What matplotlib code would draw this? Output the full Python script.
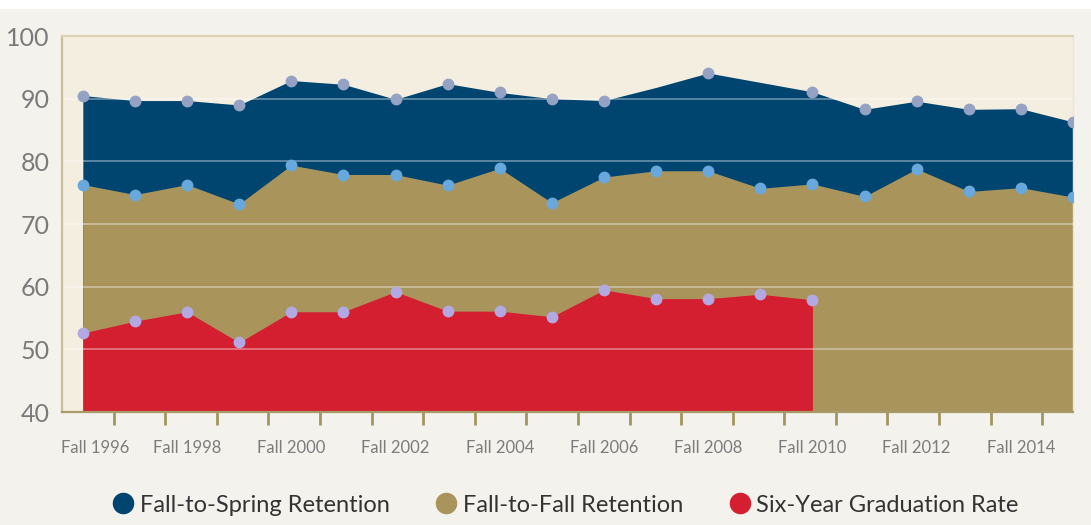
import matplotlib
matplotlib.use("Agg")
import matplotlib.pyplot as plt
import matplotlib.transforms as mtransforms
from matplotlib.lines import Line2D
from matplotlib.patches import Rectangle
import numpy as np

years = list(range(1996, 2016))
spring = [90.5, 89.7, 89.7, 89.0, 92.9, 92.3, 89.9, 92.4, 91.0, 90.0,
          89.7, 91.8, 94.1, 92.6, 91.1, 88.3, 89.6, 88.3, 88.4, 86.3]
spring_unmarked = [2007, 2009]
fall = [76.3, 74.7, 76.3, 73.2, 79.4, 77.9, 77.9, 76.2, 78.9, 73.4,
        77.5, 78.5, 78.5, 75.7, 76.4, 74.4, 78.8, 75.2, 75.8, 74.3]
grad_years = list(range(1996, 2011))
grad = [52.6, 54.5, 56.0, 51.1, 56.0, 56.0, 59.2, 56.1, 56.1, 55.2,
        59.5, 58.1, 58.1, 58.8, 57.9]

labels = ["Fall-to-Spring Retention", "Fall-to-Fall Retention", "Six-Year Graduation Rate"]
navy, tan, red = "#004470", "#a9945c", "#d41f30"

plt.rcParams["font.family"] = ["Lato", "DejaVu Sans"]

fig = plt.figure(figsize=(10.91, 5.25), dpi=100, facecolor="#f4f2ed")
fig.patches.append(Rectangle((0, 0.982), 1, 0.018, transform=fig.transFigure,
                             facecolor="white", edgecolor="none", zorder=0))
ax = fig.add_axes([0.0568, 0.2152, 0.9267, 0.7162])
ax.set_facecolor("#f3eee0")

x = np.arange(len(years))
xg = np.arange(len(grad_years))
base = 40

ax.fill_between(x, base, spring, color=navy, lw=0, zorder=1)
ax.fill_between(x, base, fall, color=tan, lw=0, zorder=1.1)
ax.fill_between(xg, base, grad, color=red, lw=0, zorder=1.2)

mk = [i for i, yr in enumerate(years) if yr not in spring_unmarked]
ax.plot(x[mk], np.array(spring)[mk], "o", ms=7.5, color="#95a2c4", zorder=4)
ax.plot(x, fall, "o", ms=7.5, color="#68a8dc", zorder=4)
ax.plot(xg, grad, "o", ms=7.5, color="#b3a9e2", zorder=4)

ax.set_ylim(40, 100)
ax.set_xlim(-0.4, 19)
ax.set_yticks(range(40, 101, 10))
for v in range(50, 100, 10):
    ax.axhline(v, color="white", alpha=0.38, lw=1.3, zorder=2)

# year labels on every other point, tick marks between points
ax.set_xticks(x[::2])
ax.set_xticklabels([f"Fall {yr}" for yr in years[::2]])
ax.set_xticks(np.arange(1, 20) * 0.99 - 0.4, minor=True)
ax.tick_params(axis="x", which="major", length=0, pad=20, labelsize=12, labelcolor="#7c7c7c")
ax.tick_params(axis="x", which="minor", length=9, width=2, color="#a3955f", direction="out")
ax.tick_params(axis="y", length=0, pad=9, labelsize=18, labelcolor="#7a7a7a")
first = ax.get_xticklabels()[0]
first.set_transform(first.get_transform() +
                    mtransforms.ScaledTranslation(0.12, 0, fig.dpi_scale_trans))

ax.spines["bottom"].set_color("#a89a68")
ax.spines["bottom"].set_linewidth(1.6)
ax.spines["left"].set_color("#cbbf98")
ax.spines["left"].set_linewidth(1.6)
ax.spines["top"].set_color("#ddd2b2")
ax.spines["top"].set_linewidth(1.6)
ax.spines["right"].set_color("#ebe5d4")
ax.spines["right"].set_linewidth(1)

handles = [Line2D([], [], ls="none", marker="o", ms=14.5, color=c) for c in (navy, tan, red)]
fig.legend(handles, labels, loc="center", bbox_to_anchor=(0.518, 0.038), ncol=3,
           frameon=False, fontsize=17, handletextpad=0.2, columnspacing=1.9,
           labelcolor="#333333", handlelength=1.0)

fig.savefig("out.png", dpi=100, facecolor=fig.get_facecolor())
